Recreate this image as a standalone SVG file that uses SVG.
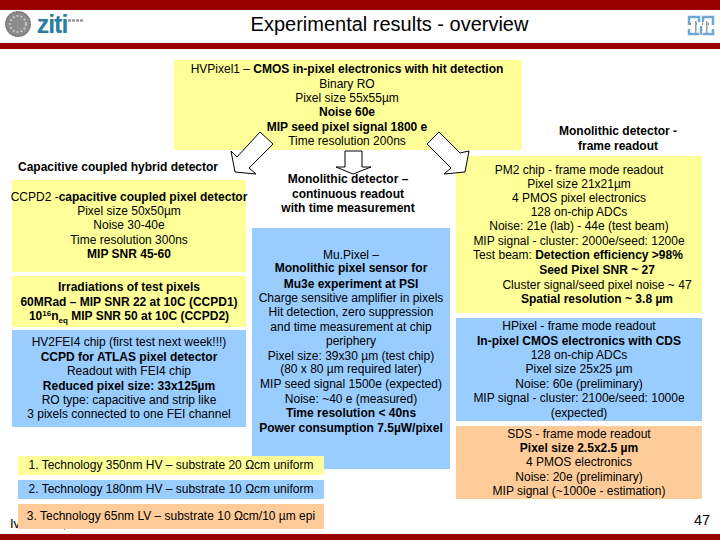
<svg xmlns="http://www.w3.org/2000/svg" width="720" height="540" viewBox="0 0 720 540">
<style>
text{font-family:"Liberation Sans",Arial,sans-serif;font-size:12px;fill:#000;text-anchor:middle}
.b{font-weight:bold}
.y{fill:#ffff99}.l{fill:#99ccff}.o{fill:#ffcc99}
.bar{fill:#990000}
.ar{fill:#fff;stroke:#000;stroke-width:1}
.lg{fill:none;stroke:#6fa8d8;stroke-width:2.5}
</style>
<rect width="720" height="540" fill="#fff"/>
<g id="frame">
<rect class="bar" width="720" height="10"/>
<rect class="bar" y="43" width="720" height="6"/>
<rect class="bar" y="534" width="720" height="6"/>
<text x="389.500" y="31" style="font-size:20px">Experimental results - overview</text>
<circle cx="18" cy="24" r="13" fill="#8c8c8c"/>
<circle cx="18" cy="24" r="8" fill="none" stroke="#c4c4c4" stroke-width="2" stroke-dasharray="2 2"/>
<circle cx="18" cy="24" r="12" fill="none" stroke="#555" stroke-width="1" stroke-dasharray="1 2"/>
<text x="52" y="33" class="b" style="font-size:25px;fill:#2a7f9e;letter-spacing:-1px">ziti</text>
<path d="M68 20.500H84" stroke="#999" stroke-width="2.500" stroke-dasharray="3 1" fill="none"/>
<path class="lg" d="M689 25V17H699V22M713 25V17H703V22M689 29V34H699M713 29V34H703M701 26V35"/>
<path d="M690 24H712" stroke="#555" stroke-width="1.500" stroke-dasharray="1 5" fill="none"/>
<rect x="695" y="21" width="1.500" height="12" fill="#999"/><rect x="706" y="21" width="1.500" height="12" fill="#999"/>
<text x="10" y="528" style="text-anchor:start;font-size:13px">Iv</text>
<rect x="64" y="528.500" width="1" height="1"/>
<text x="702" y="525" style="font-size:14.500px">47</text>
</g>
<g id="hvpixel1">
<rect class="y" x="174" y="60" width="348" height="90"/>
<text x="347" y="73">HVPixel1 – <tspan class="b">CMOS in-pixel electronics with hit detection</tspan></text>
<text x="347" y="87.500">Binary RO</text>
<text x="347" y="101.500">Pixel size 55x55µm</text>
<text x="347" y="116" class="b">Noise 60e</text>
<text x="347" y="130.500" class="b">MIP seed pixel signal 1800 e</text>
<text x="347" y="144.500">Time resolution 200ns</text>
</g>
<g id="title-hybrid"><text x="118" y="170.500" class="b">Capacitive coupled hybrid detector</text></g>
<g id="ccpd2">
<rect class="y" x="12" y="180" width="234" height="92"/>
<text x="129" y="201">CCPD2 -<tspan class="b">capacitive coupled pixel detector</tspan></text>
<text x="129" y="215">Pixel size 50x50µm</text>
<text x="129" y="229">Noise 30-40e</text>
<text x="129" y="243.500">Time resolution 300ns</text>
<text x="129" y="257.500" class="b">MIP SNR 45-60</text>
</g>
<g id="irradiations">
<rect class="y" x="12" y="276" width="234" height="51"/>
<text x="129" y="290.500" class="b">Irradiations of test pixels</text>
<text x="129" y="306" class="b">60MRad – MIP SNR 22 at 10C (CCPD1)</text>
<text x="129" y="320" class="b">10<tspan dy="-4" style="font-size:8px">16</tspan><tspan dy="4">n</tspan><tspan dy="3" style="font-size:8px">eq</tspan><tspan dy="-3"> MIP SNR 50 at 10C (CCPD2)</tspan></text>
</g>
<g id="hv2fei4">
<rect class="l" x="12" y="330" width="234" height="97"/>
<text x="129" y="345.500">HV2FEI4 chip (first test next week!!!)</text>
<text x="129" y="360.500" class="b">CCPD for ATLAS pixel detector</text>
<text x="129" y="374.500">Readout with FEI4 chip</text>
<text x="129" y="389.500" class="b">Reduced pixel size: 33x125µm</text>
<text x="129" y="403.500">RO type: capacitive and strip like</text>
<text x="129" y="417.500">3 pixels connected to one FEI channel</text>
</g>
<g id="mupixel">
<rect class="l" x="252" y="228" width="198" height="241"/>
<text x="351" y="259">Mu.Pixel –</text>
<text x="351" y="272" class="b">Monolithic pixel sensor for</text>
<text x="351" y="288" class="b">Mu3e experiment at PSI</text>
<text x="351" y="302">Charge sensitive amplifier in pixels</text>
<text x="351" y="316">Hit detection, zero suppression</text>
<text x="351" y="330.500">and time measurement at chip</text>
<text x="351" y="345">periphery</text>
<text x="351" y="359.500">Pixel size: 39x30 µm (test chip)</text>
<text x="351" y="373">(80 x 80 µm required later)</text>
<text x="351" y="387.500">MIP seed signal 1500e (expected)</text>
<text x="351" y="402.500">Noise: ~40 e (measured)</text>
<text x="351" y="417" class="b">Time resolution &lt; 40ns</text>
<text x="351" y="431.500" class="b">Power consumption 7.5µW/pixel</text>
</g>
<g id="pm2">
<rect class="y" x="456" y="156" width="246" height="157"/>
<text x="579" y="173.500">PM2 chip - frame mode readout</text>
<text x="579" y="187.500">Pixel size 21x21µm</text>
<text x="579" y="201.500">4 PMOS pixel electronics</text>
<text x="579" y="216">128 on-chip ADCs</text>
<text x="579" y="230">Noise: 21e (lab) - 44e (test beam)</text>
<text x="579" y="245">MIP signal - cluster: 2000e/seed: 1200e</text>
<text x="578" y="259">Test beam: <tspan class="b">Detection efficiency &gt;98%</tspan></text>
<text x="597" y="274" class="b">Seed Pixel SNR ~ 27</text>
<text x="597" y="288.700">Cluster signal/seed pixel noise ~ 47</text>
<text x="597" y="303" class="b">Spatial resolution ~ 3.8 µm</text>
</g>
<g id="hpixel">
<rect class="l" x="456" y="318" width="246" height="103"/>
<text x="579" y="329.700">HPixel - frame mode readout</text>
<text x="579" y="344.500" class="b">In-pixel CMOS electronics with CDS</text>
<text x="579" y="358.500">128 on-chip ADCs</text>
<text x="579" y="373">Pixel size 25x25 µm</text>
<text x="579" y="387.500">Noise: 60e (preliminary)</text>
<text x="579" y="402">MIP signal - cluster: 2100e/seed: 1000e</text>
<text x="579" y="416.500">(expected)</text>
</g>
<g id="sds">
<rect class="o" x="456" y="426" width="246" height="73"/>
<text x="579" y="438">SDS - frame mode readout</text>
<text x="579" y="452" class="b">Pixel size 2.5x2.5 µm</text>
<text x="579" y="466">4 PMOS electronics</text>
<text x="579" y="481">Noise: 20e (preliminary)</text>
<text x="579" y="495">MIP signal (~1000e - estimation)</text>
</g>
<g id="tech1">
<rect class="y" x="18" y="456" width="306" height="19"/>
<text x="171" y="468.500">1. Technology 350nm HV – substrate 20 Ωcm uniform</text>
</g>
<g id="tech2">
<rect class="l" x="18" y="480" width="306" height="19"/>
<text x="171" y="493">2. Technology 180nm HV – substrate 10 Ωcm uniform</text>
</g>
<g id="tech3">
<rect class="o" x="18" y="504" width="306" height="25"/>
<text x="171" y="520">3. Technology 65nm LV – substrate 10 Ωcm/10 µm epi</text>
</g>
<g id="connectors">
<polygon class="ar" points="260,132 273,144 249,168 256,174 235,172 231,151 237,157"/>
<polygon class="ar" points="345,151 362,151 362,167 371,167 353,174 336,167 345,167"/>
<polygon class="ar" points="439,132 460,153 469,151 465,172 444,174 451,168 427,144"/>
</g>
<g id="title-continuous">
<text x="348" y="182.500" class="b">Monolithic detector –</text>
<text x="348" y="197.500" class="b">continuous readout</text>
<text x="348" y="211.500" class="b">with time measurement</text>
</g>
<g id="title-frame">
<text x="618" y="134.500" class="b">Monolithic detector -</text>
<text x="618" y="149.500" class="b">frame readout</text>
</g>
</svg>
